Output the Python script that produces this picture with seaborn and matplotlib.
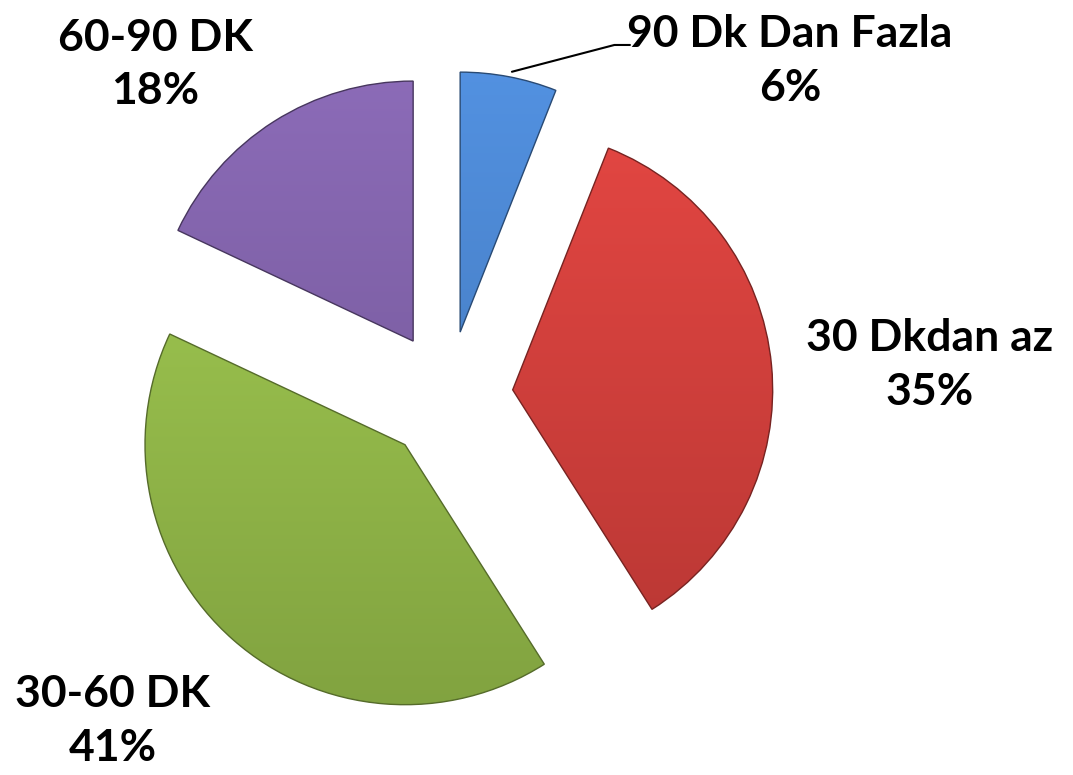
import numpy as np
import matplotlib
matplotlib.use("Agg")
import matplotlib.pyplot as plt
import seaborn as sns
from matplotlib.colors import to_rgb

# Data
labels = ["90 Dk Dan Fazla", "30 Dkdan az", "30-60 DK", "60-90 DK"]
percents = [6, 35, 41, 18]
colors = ["#4A86D2", "#D8403C", "#9AC24C", "#8162AB"]

sns.set_theme(style="white")
plt.rcParams["font.family"] = ["Lato", "DejaVu Sans"]

fig = plt.figure(figsize=(10.73, 7.75), dpi=100)
ax = fig.add_axes([0, 0, 1, 1])

wedges, _ = ax.pie(percents, colors=colors, startangle=90, counterclock=False,
                   explode=[0.25] * len(percents), radius=1.0,
                   wedgeprops=dict(linewidth=0))

# gradient fill, light top / dark bottom, clipped to each wedge
grad = np.linspace(1.0, 0.0, 256).reshape(-1, 1)
for w, c in zip(wedges, colors):
    base = np.array(to_rgb(c))
    light = np.clip(base * 1.06 + 0.02, 0, 1)
    dark = base * 0.82
    img = light[None, None, :] * grad[..., None] + dark[None, None, :] * (1 - grad[..., None])
    img = np.repeat(img, 2, axis=1)
    im = ax.imshow(img, extent=[-1.4, 1.4, -1.4, 1.4], origin="upper",
                   interpolation="bilinear", zorder=2)
    im.set_clip_path(w)
    w.set_facecolor("none")
    w.set_edgecolor(tuple(base * 0.55))
    w.set_linewidth(1.0)
    w.set_zorder(3)

ax.set_xlim(-1.723, 2.404)
ax.set_ylim(-1.458, 1.523)
ax.set_aspect("equal")
ax.axis("off")

# label positions (layout)
pos = [(1.315, 1.29), (1.854, 0.12), (-1.29, -1.25), (-1.127, 1.275)]
for lab, p, (x, y) in zip(labels, percents, pos):
    ax.text(x, y, f"{lab}\n{p}%", ha="center", va="center", fontsize=32,
            fontweight="bold", color="black", linespacing=1.42, zorder=5)

# leader line for the small slice
ax.plot([0.246, 0.64, 0.70], [1.247, 1.35, 1.35], color="black", lw=1.5, zorder=4)

fig.savefig("out.png", dpi=100, facecolor="white")
